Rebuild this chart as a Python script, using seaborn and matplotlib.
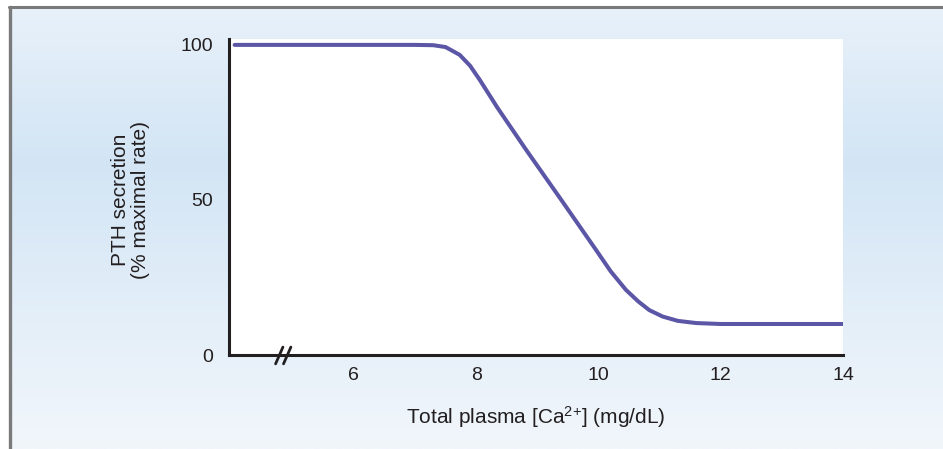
import numpy as np
import pandas as pd
import matplotlib.pyplot as plt
import seaborn as sns
from matplotlib.colors import LinearSegmentedColormap

# curve
calcium = [4.05, 7.0, 7.3, 7.5, 7.73, 7.9, 8.06, 8.35, 8.82, 9.4, 9.96, 10.2, 10.45,
           10.65, 10.83, 11.05, 11.3, 11.6, 12.0, 14.0]
pth = [100, 100, 99.9, 99.3, 96.8, 93.3, 88.7, 79.7, 66.1, 49.8, 33.9, 27.0, 21.0,
       17.3, 14.5, 12.4, 11.0, 10.3, 10.0, 10.0]
x_ticks = [6, 8, 10, 12, 14]
y_ticks = [0, 50, 100]

df = pd.DataFrame({"calcium": calcium, "pth": pth})

sns.set_style("white")
plt.rcParams["font.family"] = ["Liberation Sans", "DejaVu Sans"]
plt.rcParams["mathtext.fontset"] = "custom"
plt.rcParams["mathtext.rm"] = "Liberation Sans"

fig = plt.figure(figsize=(9.43, 4.49), dpi=100)
fig.patch.set_facecolor("white")

# gradient panel background with grey frame on top and left
bg = fig.add_axes([9 / 943, 0, 1 - 9 / 943, 1 - 7 / 449])
grad = np.linspace(0, 1, 256).reshape(-1, 1)
cmap = LinearSegmentedColormap.from_list(
    "panel", [(0, "#e8f1fa"), (0.35, "#d3e5f5"), (0.75, "#e6f0f9"), (1, "#f1f6fb")])
bg.imshow(grad, aspect="auto", cmap=cmap, extent=[0, 1, 0, 1])
bg.set_axis_off()
fig.add_artist(plt.Line2D([9 / 943, 1], [1 - 7 / 449] * 2, color="#7a7a7a", lw=2.2))
fig.add_artist(plt.Line2D([9.5 / 943] * 2, [0, 1 - 7 / 449], color="#7a7a7a", lw=2.4))

ax = fig.add_axes([228.5 / 943, 1 - 355 / 449, (843 - 228.5) / 943, (355 - 39) / 449])
ax.set_facecolor("white")
sns.lineplot(data=df, x="calcium", y="pth", ax=ax, color="#5c56a6", lw=2.9)

ax.set_xlim(3.95, 14)
ax.set_ylim(0, 101.9)
ax.set_xticks(x_ticks)
ax.set_yticks(y_ticks)
ax.tick_params(axis="both", direction="out", width=1.2, color="#555555",
               labelsize=14, labelcolor="#231f20", pad=3)
ax.tick_params(axis="x", length=6)
ax.tick_params(axis="y", length=8)
for s in ["top", "right"]:
    ax.spines[s].set_visible(False)
for s in ["left", "bottom"]:
    ax.spines[s].set_linewidth(2.2)
    ax.spines[s].set_color("#231f20")

ax.set_xlabel(r"Total plasma [Ca$\mathregular{^{2{+}}}$] (mg/dL)", fontsize=15,
              color="#231f20")
ax.set_ylabel("PTH secretion\n(% maximal rate)", fontsize=15, color="#231f20",
              linespacing=1.05)
ax.xaxis.set_label_coords(0.5, -0.155)
ax.yaxis.set_label_coords(-0.128, 0.49)

# axis break marks
trans = ax.get_xaxis_transform()
for xc in [4.78, 4.91]:
    ax.plot([xc - 0.06, xc + 0.06], [-0.028, 0.025], transform=trans, color="#231f20",
            lw=2.0, clip_on=False)

fig.savefig("out.png", dpi=100)
